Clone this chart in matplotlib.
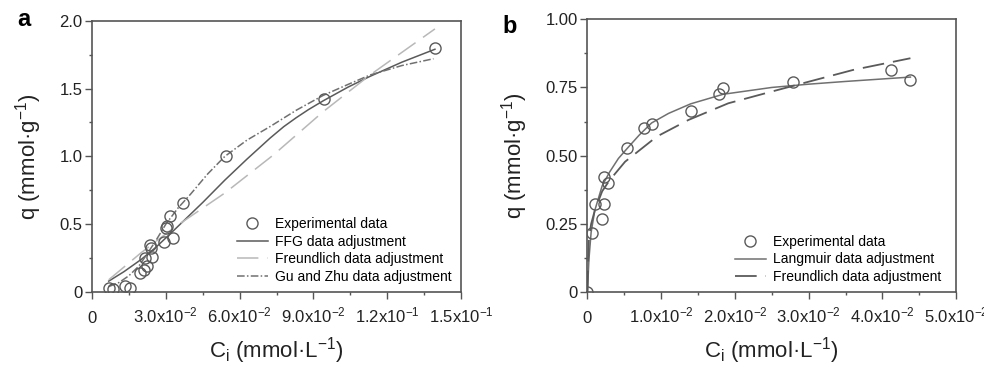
import matplotlib
matplotlib.use("Agg")
import matplotlib.pyplot as plt
from matplotlib.ticker import MultipleLocator

plt.rcParams['font.family'] = ['Liberation Sans', 'DejaVu Sans']
plt.rcParams['mathtext.fontset'] = 'custom'
plt.rcParams['mathtext.rm'] = 'Liberation Sans'
plt.rcParams['mathtext.it'] = 'Liberation Sans'

# Panel a: experimental points
a_ci = [0.0068, 0.0087, 0.0134, 0.0154, 0.0195, 0.0211, 0.0222, 0.0215, 0.0243,
        0.0239, 0.0236, 0.0294, 0.0301, 0.0306, 0.0330, 0.0317, 0.0371, 0.0543,
        0.0944, 0.1394]
a_q = [0.032, 0.022, 0.044, 0.032, 0.138, 0.162, 0.19, 0.248, 0.26,
       0.324, 0.35, 0.37, 0.47, 0.49, 0.396, 0.56, 0.653, 1.006,
       1.42, 1.80]

# Panel a: fitted curves
a_ffg_x = [0.0068, 0.013, 0.020, 0.026, 0.033, 0.045, 0.054, 0.063, 0.0724, 0.078, 0.083, 0.088,
           0.094, 0.104, 0.113, 0.126, 0.1394]
a_ffg_y = [0.08, 0.15, 0.24, 0.33, 0.45, 0.66, 0.825, 0.98, 1.135, 1.22, 1.285, 1.345,
           1.41, 1.51, 1.59, 1.695, 1.79]
a_fr_x = [0.0068, 0.020, 0.033, 0.054, 0.0737, 0.094, 0.113, 0.1394]
a_fr_y = [0.09, 0.29, 0.47, 0.73, 1.01, 1.33, 1.60, 1.94]
a_gz_x = [0.0068, 0.011, 0.015, 0.019, 0.022, 0.026, 0.030, 0.035, 0.040, 0.047, 0.054, 0.063,
          0.0724, 0.083, 0.094, 0.104, 0.113, 0.126, 0.1388]
a_gz_y = [0.04, 0.07, 0.12, 0.19, 0.27, 0.38, 0.50, 0.62, 0.72, 0.87, 1.00, 1.12,
          1.22, 1.34, 1.45, 1.53, 1.60, 1.67, 1.72]

# Panel b: experimental points
b_ci = [0.0, 0.0006, 0.00104, 0.00226, 0.0020, 0.00226, 0.00285, 0.0054, 0.0077,
        0.0087, 0.0140, 0.0178, 0.0184, 0.0279, 0.0411, 0.0438]
b_q = [0.0, 0.216, 0.322, 0.322, 0.268, 0.421, 0.40, 0.527, 0.60,
       0.616, 0.664, 0.726, 0.747, 0.771, 0.814, 0.778]

# Panel b: fitted curves
b_lang_x = [0.0, 0.0002, 0.0005, 0.001, 0.002, 0.003, 0.0042, 0.0054, 0.007, 0.0087, 0.011,
            0.014, 0.0184, 0.025, 0.030, 0.035, 0.0438]
b_lang_y = [0.0, 0.12, 0.22, 0.30, 0.39, 0.44, 0.49, 0.527, 0.575, 0.62, 0.655,
            0.69, 0.725, 0.75, 0.762, 0.772, 0.788]
b_fr_x = [0.0, 0.0002, 0.0005, 0.001, 0.002, 0.003, 0.0051, 0.0094, 0.0137, 0.0191, 0.025,
          0.0293, 0.036, 0.0438]
b_fr_y = [0.0, 0.20, 0.25, 0.30, 0.37, 0.41, 0.478, 0.57, 0.631, 0.692, 0.735,
          0.766, 0.814, 0.857]

a_xticks = [0, 0.03, 0.06, 0.09, 0.12, 0.15]
a_xlabels = ['0', r'3.0x10$^{-2}$', r'6.0x10$^{-2}$', r'9.0x10$^{-2}$', r'1.2x10$^{-1}$', r'1.5x10$^{-1}$']
a_yticks = [0, 0.5, 1.0, 1.5, 2.0]
a_ylabels = ['0', '0.5', '1.0', '1.5', '2.0']
b_xticks = [0, 0.01, 0.02, 0.03, 0.04, 0.05]
b_xlabels = ['0', r'1.0x10$^{-2}$', r'2.0x10$^{-2}$', r'3.0x10$^{-2}$', r'4.0x10$^{-2}$', r'5.0x10$^{-2}$']
b_yticks = [0, 0.25, 0.5, 0.75, 1.0]
b_ylabels = ['0', '0.25', '0.50', '0.75', '1.00']

line_c = '#5a5a5a'
light_c = '#b8b8b8'
spine_c = '#555555'
text_c = '#222222'

fig = plt.figure(figsize=(9.84, 3.69), dpi=100)
ax_a = fig.add_axes([0.0935, 0.2087, 0.375, 0.735])
ax_b = fig.add_axes([0.597, 0.2080, 0.3747, 0.740])


def style_axes(ax, xticks, xlabels, yticks, ylabels, xminor, yminor):
    ax.set_xticks(xticks)
    ax.set_xticklabels(xlabels)
    ax.set_yticks(yticks)
    ax.set_yticklabels(ylabels)
    ax.xaxis.set_minor_locator(MultipleLocator(xminor))
    ax.yaxis.set_minor_locator(MultipleLocator(yminor))
    ax.set_xlim(xticks[0], xticks[-1])
    ax.set_ylim(yticks[0], yticks[-1])
    ax.tick_params(which='both', direction='out', top=False, right=False,
                   colors=spine_c, labelcolor=text_c, width=1.0)
    ax.tick_params(which='major', length=5, labelsize=12)
    ax.tick_params(which='minor', length=2.5)
    ax.tick_params(axis='x', which='major', pad=17)
    ax.tick_params(axis='y', which='major', pad=2)
    for lbl in ax.get_xticklabels():
        lbl.set_verticalalignment('baseline')
    for sp in ax.spines.values():
        sp.set_color(spine_c)
        sp.set_linewidth(1.2)
    ax.set_xlabel(r'C$_{\mathregular{i}}$ (mmol·L$^{-1}$)', fontsize=16, labelpad=7, color=text_c)
    ax.set_ylabel(r'q (mmol·g$^{-1}$)', fontsize=16, labelpad=11, color=text_c)


# Panel a
ax_a.plot(a_ci, a_q, 'o', mfc='none', mec=line_c, ms=8, mew=1.0, label='Experimental data', zorder=3)
ax_a.plot(a_ffg_x, a_ffg_y, '-', color=line_c, lw=1.1, label='FFG data adjustment')
ax_a.plot(a_fr_x, a_fr_y, '--', color=light_c, lw=1.1, dashes=(14, 6), label='Freundlich data adjustment')
ax_a.plot(a_gz_x, a_gz_y, '-.', color='#707070', lw=1.1, dashes=(5, 1.5, 1, 1.5), label='Gu and Zhu data adjustment')
style_axes(ax_a, a_xticks, a_xlabels, a_yticks, a_ylabels, 0.015, 0.25)
ax_a.legend(loc='lower right', bbox_to_anchor=(1.0, -0.005), frameon=False, fontsize=10,
            handlelength=2.2, handletextpad=0.5, labelspacing=0.25, borderaxespad=0.3)
fig.text(17 / 984, 1 - 26 / 369, 'a', fontsize=17, fontweight='bold', va='baseline')

# Panel b
ax_b.plot(b_ci, b_q, 'o', mfc='none', mec=line_c, ms=8, mew=1.0, label='Experimental data', zorder=3)
ax_b.plot(b_lang_x, b_lang_y, '-', color='#707070', lw=1.1, label='Langmuir data adjustment')
ax_b.plot(b_fr_x, b_fr_y, '--', color=line_c, lw=1.3, dashes=(12, 5), label='Freundlich data adjustment')
style_axes(ax_b, b_xticks, b_xlabels, b_yticks, b_ylabels, 0.005, 0.125)
ax_b.legend(loc='lower right', bbox_to_anchor=(0.985, -0.005), frameon=False, fontsize=10,
            handlelength=2.2, handletextpad=0.5, labelspacing=0.25, borderaxespad=0.3)
fig.text(502 / 984, 1 - 33 / 369, 'b', fontsize=17, fontweight='bold', va='baseline')

fig.savefig('out.png', dpi=100)
